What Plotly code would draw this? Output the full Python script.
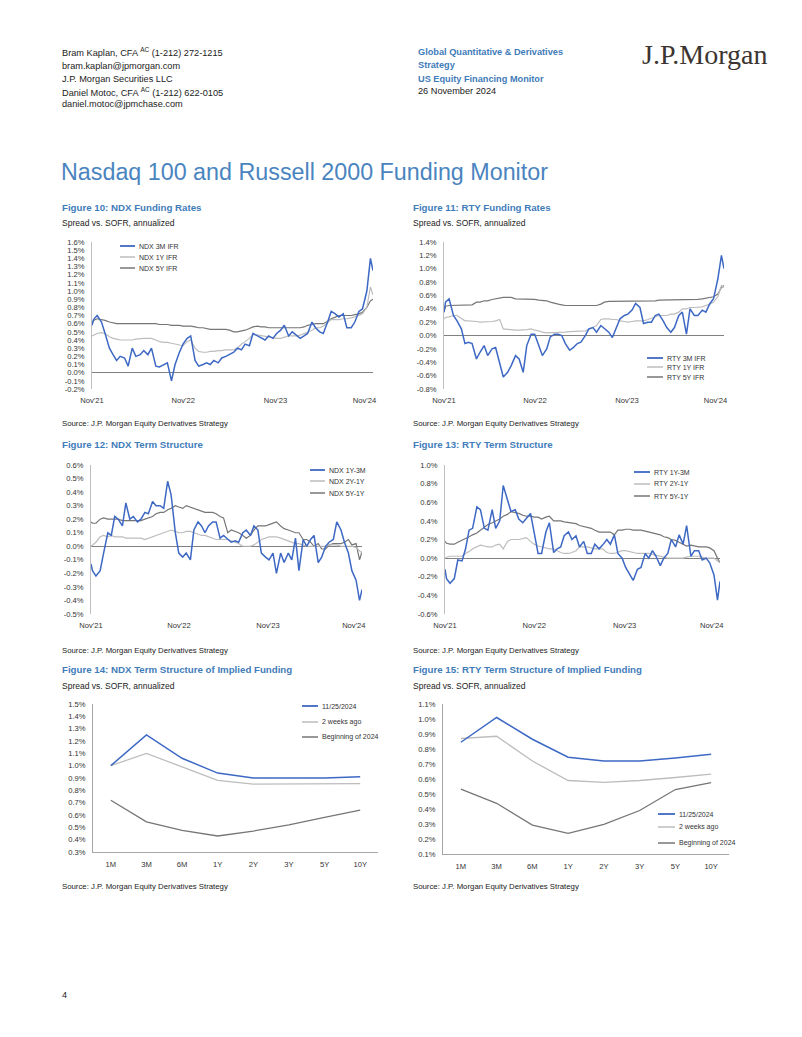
import plotly.graph_objects as go

W, H = 802, 1037
def fx(p): return p / W
def fy(p): return 1 - p / H

BLUE = "#3D68C4"
LGRAY = "#BDBDBD"
DGRAY = "#767676"
TITLE_BLUE = "#4A84BF"
FIG_BLUE = "#3F7CBA"
FONT = "Liberation Sans, Arial, sans-serif"

# ---------------- data ----------------
dates = [
    "2021-11-25", "2021-12-01", "2021-12-15",
    "2022-01-01", "2022-01-15", "2022-02-01", "2022-02-15", "2022-03-01", "2022-03-15",
    "2022-04-01", "2022-04-15", "2022-05-01", "2022-05-15", "2022-06-01", "2022-06-15",
    "2022-07-01", "2022-07-15", "2022-08-01", "2022-08-15", "2022-09-01", "2022-09-15",
    "2022-10-01", "2022-10-15", "2022-11-01", "2022-11-15", "2022-12-01", "2022-12-15",
    "2023-01-01", "2023-01-15", "2023-02-01", "2023-02-15", "2023-03-01", "2023-03-15",
    "2023-04-01", "2023-04-15", "2023-05-01", "2023-05-15", "2023-06-01", "2023-06-15",
    "2023-07-01", "2023-07-15", "2023-08-01", "2023-08-15", "2023-09-01", "2023-09-15",
    "2023-10-01", "2023-10-15", "2023-11-01", "2023-11-15", "2023-12-01", "2023-12-15",
    "2024-01-01", "2024-01-15", "2024-02-01", "2024-02-15", "2024-03-01", "2024-03-15",
    "2024-04-01", "2024-04-15", "2024-05-01", "2024-05-15", "2024-06-01", "2024-06-15",
    "2024-07-01", "2024-07-15", "2024-08-01", "2024-08-15", "2024-09-01", "2024-09-15",
    "2024-10-01", "2024-10-15", "2024-11-01", "2024-11-15", "2024-11-25",
]
tick_dates = ["2021-11-25", "2022-11-16", "2023-11-11", "2024-10-23"]
tick_text = ["Nov'21", "Nov'22", "Nov'23", "Nov'24"]

# Figure 10: NDX funding rates (%)
ndx_3m_ifr = [0.58, 0.65, 0.70, 0.62, 0.48, 0.30, 0.22, 0.15, 0.20, 0.18,
              0.08, 0.30, 0.20, 0.22, 0.27, 0.22, 0.30, 0.08, 0.07, 0.10,
              0.12, -0.10, 0.10, 0.25, 0.35, 0.42, 0.45, 0.15, 0.08, 0.10,
              0.12, 0.10, 0.15, 0.12, 0.18, 0.20, 0.22, 0.25, 0.30, 0.28,
              0.35, 0.33, 0.48, 0.45, 0.42, 0.40, 0.45, 0.42, 0.48, 0.52,
              0.58, 0.45, 0.50, 0.45, 0.42, 0.45, 0.48, 0.62, 0.55, 0.50,
              0.48, 0.62, 0.75, 0.72, 0.68, 0.72, 0.55, 0.55, 0.62, 0.75,
              0.78, 1.00, 1.40, 1.25]
ndx_1y_ifr = [0.45, 0.46, 0.48, 0.49, 0.48, 0.44, 0.42, 0.41, 0.40, 0.40,
              0.40, 0.40, 0.41, 0.42, 0.42, 0.42, 0.42, 0.40, 0.38, 0.37,
              0.37, 0.36, 0.35, 0.34, 0.33, 0.38, 0.40, 0.30, 0.26, 0.25,
              0.25, 0.26, 0.26, 0.27, 0.27, 0.28, 0.28, 0.28, 0.30, 0.35,
              0.38, 0.42, 0.47, 0.46, 0.45, 0.44, 0.43, 0.42, 0.42, 0.42,
              0.43, 0.45, 0.45, 0.45, 0.46, 0.48, 0.50, 0.52, 0.55, 0.55,
              0.57, 0.62, 0.65, 0.65, 0.65, 0.66, 0.66, 0.67, 0.68, 0.70,
              0.72, 0.80, 1.05, 0.95]
ndx_5y_ifr = [0.60, 0.64, 0.66, 0.65, 0.64, 0.62, 0.61, 0.60, 0.60, 0.60,
              0.60, 0.60, 0.60, 0.60, 0.60, 0.60, 0.60, 0.60, 0.59, 0.59,
              0.59, 0.58, 0.58, 0.58, 0.57, 0.57, 0.57, 0.56, 0.55, 0.55,
              0.54, 0.53, 0.53, 0.53, 0.53, 0.53, 0.52, 0.50, 0.50, 0.51,
              0.52, 0.54, 0.56, 0.57, 0.56, 0.56, 0.55, 0.55, 0.55, 0.55,
              0.55, 0.55, 0.55, 0.55, 0.55, 0.56, 0.58, 0.59, 0.60, 0.60,
              0.60, 0.63, 0.66, 0.68, 0.70, 0.70, 0.70, 0.70, 0.71, 0.72,
              0.74, 0.80, 0.88, 0.90]

# Figure 11: RTY funding rates (%)
rty_3m_ifr = [0.35, 0.50, 0.55, 0.30, 0.22, 0.10, -0.12, -0.10, -0.12, -0.35,
              -0.25, -0.15, -0.30, -0.20, -0.18, -0.40, -0.62, -0.55, -0.45, -0.30,
              -0.35, -0.55, -0.15, 0.02, 0.02, -0.15, -0.30, -0.20, -0.02, 0.02,
              0.02, 0.00, -0.12, -0.22, -0.18, -0.12, -0.10, 0.00, 0.10, 0.12,
              0.05, 0.15, 0.10, 0.05, -0.03, 0.12, 0.25, 0.30, 0.32, 0.38,
              0.48, 0.42, 0.18, 0.20, 0.20, 0.30, 0.32, 0.22, 0.12, 0.05,
              0.12, 0.30, 0.35, 0.02, 0.40, 0.30, 0.30, 0.38, 0.35, 0.48,
              0.55, 0.85, 1.20, 1.00]
rty_1y_ifr = [0.25, 0.27, 0.28, 0.30, 0.30, 0.26, 0.22, 0.22, 0.22, 0.21,
              0.20, 0.20, 0.20, 0.21, 0.22, 0.24, 0.10, 0.09, 0.08, 0.08,
              0.08, 0.08, 0.09, 0.10, 0.08, 0.07, 0.05, 0.04, 0.04, 0.05,
              0.05, 0.05, 0.05, 0.06, 0.06, 0.07, 0.07, 0.07, 0.09, 0.12,
              0.15, 0.24, 0.25, 0.25, 0.24, 0.24, 0.22, 0.21, 0.20, 0.21,
              0.22, 0.22, 0.22, 0.24, 0.26, 0.28, 0.30, 0.30, 0.30, 0.32,
              0.32, 0.35, 0.40, 0.40, 0.42, 0.42, 0.42, 0.43, 0.45, 0.47,
              0.50, 0.58, 0.75, 0.72]
rty_5y_ifr = [0.35, 0.44, 0.45, 0.45, 0.45, 0.45, 0.45, 0.46, 0.46, 0.50,
              0.50, 0.52, 0.52, 0.54, 0.55, 0.55, 0.57, 0.57, 0.57, 0.55,
              0.55, 0.55, 0.55, 0.55, 0.54, 0.53, 0.53, 0.52, 0.50, 0.48,
              0.47, 0.46, 0.45, 0.45, 0.45, 0.44, 0.44, 0.44, 0.44, 0.45,
              0.45, 0.47, 0.50, 0.51, 0.51, 0.52, 0.52, 0.52, 0.52, 0.52,
              0.52, 0.52, 0.52, 0.52, 0.52, 0.52, 0.53, 0.53, 0.53, 0.53,
              0.53, 0.53, 0.53, 0.53, 0.53, 0.53, 0.54, 0.55, 0.56, 0.57,
              0.58, 0.62, 0.72, 0.75]

# Figure 12: NDX term structure (%)
ndx_1y_3m = [-0.13, -0.18, -0.22, -0.18, -0.05, 0.10, 0.08, 0.22, 0.20, 0.15,
             0.32, 0.20, 0.22, 0.18, 0.20, 0.25, 0.24, 0.33, 0.30, 0.30,
             0.28, 0.48, 0.38, 0.10, -0.05, -0.08, -0.05, -0.10, 0.12, 0.18,
             0.15, 0.10, 0.15, 0.18, 0.18, 0.06, 0.08, 0.05, 0.03, 0.04,
             0.03, 0.10, 0.12, 0.08, 0.15, 0.12, -0.05, -0.08, -0.10, -0.05,
             -0.20, -0.05, -0.12, -0.05, -0.10, 0.06, -0.18, 0.05, 0.00, 0.05,
             0.08, -0.12, -0.08, 0.00, 0.03, 0.05, 0.18, 0.12, 0.03, -0.05,
             -0.18, -0.25, -0.40, -0.32]
ndx_2y_1y = [0.00, 0.01, 0.03, 0.07, 0.08, 0.07, 0.08, 0.07, 0.07, 0.07,
             0.06, 0.06, 0.06, 0.06, 0.06, 0.05, 0.06, 0.07, 0.08, 0.09,
             0.10, 0.11, 0.12, 0.11, 0.10, 0.10, 0.11, 0.11, 0.10, 0.09,
             0.08, 0.08, 0.07, 0.06, 0.05, 0.05, 0.05, 0.05, 0.04, 0.03,
             0.02, 0.00, 0.00, 0.00, 0.01, 0.03, 0.05, 0.06, 0.07, 0.07,
             0.07, 0.06, 0.05, 0.04, 0.03, 0.02, 0.02, 0.01, 0.00, 0.00,
             0.00, 0.00, 0.00, 0.00, 0.01, 0.01, 0.01, 0.00, 0.00, 0.00,
             0.00, -0.01, -0.03, -0.05]
ndx_5y_1y = [0.18, 0.17, 0.17, 0.20, 0.21, 0.20, 0.20, 0.20, 0.20, 0.19,
             0.19, 0.19, 0.19, 0.19, 0.19, 0.20, 0.21, 0.22, 0.24, 0.25,
             0.25, 0.27, 0.28, 0.30, 0.29, 0.28, 0.30, 0.29, 0.28, 0.27,
             0.26, 0.25, 0.25, 0.25, 0.24, 0.22, 0.21, 0.10, 0.12, 0.11,
             0.10, 0.08, 0.06, 0.08, 0.12, 0.15, 0.15, 0.15, 0.16, 0.17,
             0.18, 0.15, 0.13, 0.12, 0.11, 0.10, 0.10, 0.05, 0.05, 0.03,
             0.00, 0.02, -0.02, -0.02, 0.01, 0.02, 0.02, 0.02, 0.03, 0.05,
             0.01, 0.02, -0.10, -0.04]

# Figure 13: RTY term structure (%)
rty_1y_3m = [-0.12, -0.22, -0.27, -0.22, -0.02, -0.03, 0.10, 0.30, 0.32, 0.55,
             0.52, 0.32, 0.30, 0.52, 0.32, 0.40, 0.78, 0.62, 0.50, 0.52,
             0.42, 0.38, 0.42, 0.48, 0.28, 0.05, 0.05, 0.28, 0.38, 0.06,
             0.10, 0.12, 0.24, 0.28, 0.20, 0.24, 0.12, 0.18, 0.05, 0.05,
             0.15, 0.10, 0.14, 0.20, 0.15, 0.25, 0.05, 0.00, -0.10, -0.18,
             -0.24, -0.12, -0.10, 0.05, 0.00, 0.08, 0.02, -0.08, 0.00, 0.05,
             0.20, 0.12, 0.25, 0.15, 0.35, 0.02, 0.08, 0.08, -0.02, 0.00,
             -0.05, -0.18, -0.45, -0.25]
rty_2y_1y = [0.00, 0.01, 0.02, 0.02, 0.02, 0.02, 0.05, 0.07, 0.10, 0.12,
             0.14, 0.13, 0.12, 0.12, 0.14, 0.15, 0.10, 0.18, 0.20, 0.20,
             0.20, 0.21, 0.22, 0.18, 0.15, 0.13, 0.12, 0.11, 0.10, 0.10,
             0.08, 0.06, 0.05, 0.05, 0.06, 0.08, 0.12, 0.12, 0.12, 0.11,
             0.10, 0.10, 0.10, 0.06, 0.05, 0.05, 0.06, 0.08, 0.08, 0.07,
             0.06, 0.05, 0.05, 0.05, 0.05, 0.04, 0.03, 0.02, 0.01, 0.00,
             0.00, 0.00, 0.00, 0.00, 0.01, 0.02, 0.02, 0.02, 0.01, 0.00,
             0.00, 0.00, -0.03, -0.05]
rty_5y_1y = [0.18, 0.16, 0.15, 0.15, 0.17, 0.19, 0.21, 0.23, 0.25, 0.27,
             0.30, 0.33, 0.36, 0.38, 0.40, 0.42, 0.45, 0.47, 0.50, 0.49,
             0.48, 0.46, 0.45, 0.45, 0.44, 0.44, 0.42, 0.44, 0.45, 0.40,
             0.40, 0.40, 0.39, 0.38, 0.38, 0.37, 0.35, 0.34, 0.33, 0.32,
             0.30, 0.28, 0.28, 0.28, 0.28, 0.25, 0.30, 0.30, 0.31, 0.31,
             0.30, 0.30, 0.30, 0.29, 0.28, 0.27, 0.26, 0.25, 0.23, 0.22,
             0.20, 0.19, 0.17, 0.15, 0.13, 0.14, 0.13, 0.12, 0.12, 0.12,
             0.11, 0.08, 0.00, -0.05]

# Figures 14/15: implied funding term structures (%)
tenors = ["1M", "3M", "6M", "1Y", "2Y", "3Y", "5Y", "10Y"]
ndx_curve_now = [1.00, 1.25, 1.06, 0.94, 0.90, 0.90, 0.90, 0.91]
ndx_curve_2w = [1.00, 1.10, 0.99, 0.88, 0.85, 0.85, 0.85, 0.855]
ndx_curve_boy = [0.72, 0.545, 0.475, 0.43, 0.47, 0.52, 0.58, 0.64]
rty_curve_now = [0.845, 1.01, 0.865, 0.745, 0.72, 0.72, 0.74, 0.765]
rty_curve_2w = [0.87, 0.885, 0.72, 0.59, 0.578, 0.59, 0.61, 0.633]
rty_curve_boy = [0.533, 0.438, 0.293, 0.238, 0.298, 0.39, 0.53, 0.576]

# y tick values per chart
ticks_fig10 = [-0.2, -0.1, 0.0, 0.1, 0.2, 0.3, 0.4, 0.5, 0.6, 0.7, 0.8, 0.9, 1.0, 1.1, 1.2, 1.3, 1.4, 1.5, 1.6]
ticks_fig11 = [-0.8, -0.6, -0.4, -0.2, 0.0, 0.2, 0.4, 0.6, 0.8, 1.0, 1.2, 1.4]
ticks_fig12 = [-0.5, -0.4, -0.3, -0.2, -0.1, 0.0, 0.1, 0.2, 0.3, 0.4, 0.5, 0.6]
ticks_fig13 = [-0.6, -0.4, -0.2, 0.0, 0.2, 0.4, 0.6, 0.8, 1.0]
ticks_fig14 = [0.3, 0.4, 0.5, 0.6, 0.7, 0.8, 0.9, 1.0, 1.1, 1.2, 1.3, 1.4, 1.5]
ticks_fig15 = [0.1, 0.2, 0.3, 0.4, 0.5, 0.6, 0.7, 0.8, 0.9, 1.0, 1.1]

# ---------------- figure ----------------
fig = go.Figure()
layout = dict(width=W, height=H, margin=dict(l=0, r=0, t=0, b=0, pad=0, autoexpand=False),
              paper_bgcolor="white", plot_bgcolor="white", showlegend=False,
              template="none",
              font=dict(family=FONT, color="#222222"))

TICKFONT = dict(family=FONT, size=7.6, color="#333333")

charts = [
    (1, (92, 373), (242, 389), ticks_fig10, "ts",
     [(ndx_5y_ifr, DGRAY, 1.2), (ndx_1y_ifr, LGRAY, 1.2), (ndx_3m_ifr, BLUE, 1.5)]),
    (2, (444, 724), (242, 389), ticks_fig11, "ts",
     [(rty_5y_ifr, DGRAY, 1.2), (rty_1y_ifr, LGRAY, 1.2), (rty_3m_ifr, BLUE, 1.5)]),
    (3, (91, 362), (465, 614), ticks_fig12, "ts",
     [(ndx_5y_1y, DGRAY, 1.2), (ndx_2y_1y, LGRAY, 1.2), (ndx_1y_3m, BLUE, 1.5)]),
    (4, (445, 720), (465, 614), ticks_fig13, "ts",
     [(rty_5y_1y, DGRAY, 1.2), (rty_2y_1y, LGRAY, 1.2), (rty_1y_3m, BLUE, 1.5)]),
    (5, (93, 378), (704, 852), ticks_fig14, "cat",
     [(ndx_curve_boy, DGRAY, 1.3), (ndx_curve_2w, LGRAY, 1.3), (ndx_curve_now, BLUE, 1.5)]),
    (6, (443, 729), (704, 854), ticks_fig15, "cat",
     [(rty_curve_boy, DGRAY, 1.3), (rty_curve_2w, LGRAY, 1.3), (rty_curve_now, BLUE, 1.5)]),
]

for idx, xd, yd, yt, kind, series in charts:
    sfx = "" if idx == 1 else str(idx)
    xa, ya = "xaxis" + sfx, "yaxis" + sfx
    xs = tenors if kind == "cat" else dates
    for vals, col, w in series:
        fig.add_trace(go.Scatter(x=xs, y=vals, mode="lines",
                                 line=dict(color=col, width=w),
                                 xaxis="x" + sfx, yaxis="y" + sfx,
                                 hoverinfo="skip"))
    common_y = dict(domain=[fy(yd[1]), fy(yd[0])], anchor="x" + sfx,
                    range=[yt[0], yt[-1]], tickvals=yt,
                    ticktext=[f"{v:.1f}%" for v in yt],
                    showgrid=False, showline=True, linewidth=1, automargin=False,
                    ticks="", tickfont=TICKFONT, ticklabelstandoff=5)
    if kind == "ts":
        layout[xa] = dict(domain=[fx(xd[0]), fx(xd[1])], anchor="y" + sfx, type="date",
                          range=[dates[0], dates[-1]], tickvals=tick_dates, ticktext=tick_text,
                          showgrid=False, showline=False, zeroline=False, ticks="",
                          automargin=False, tickfont=TICKFONT, ticklabelstandoff=5)
        layout[ya] = dict(common_y, linecolor="#BFBFBF", zeroline=True,
                          zerolinecolor="#808080", zerolinewidth=1)
    else:
        layout[xa] = dict(domain=[fx(xd[0]), fx(xd[1])], anchor="y" + sfx, type="category",
                          range=[-0.5, 7.5], showgrid=False, showline=True,
                          linecolor="#A6A6A6", linewidth=1, zeroline=False, ticks="",
                          automargin=False, tickfont=TICKFONT, ticklabelstandoff=5)
        layout[ya] = dict(common_y, linecolor="#A6A6A6", zeroline=False)

annotations = []
shapes = []

def txt(x, y, s, size, color="#222222", bold=False, family=FONT):
    annotations.append(dict(x=fx(x), y=fy(y), xref="paper", yref="paper",
                            xanchor="left", yanchor="middle", showarrow=False,
                            text=("<b>%s</b>" % s) if bold else s,
                            font=dict(family=family, size=size, color=color)))

# header
txt(60, 52, "Bram Kaplan, CFA <sup>AC</sup> (1-212) 272-1215", 9.2)
txt(60, 66, "bram.kaplan@jpmorgan.com", 9.2)
txt(60, 79, "J.P. Morgan Securities LLC", 9.2)
txt(60, 92, "Daniel Motoc, CFA <sup>AC</sup> (1-212) 622-0105", 9.2)
txt(60, 104, "daniel.motoc@jpmchase.com", 9.2)
txt(416, 52, "Global Quantitative & Derivatives", 9.2, FIG_BLUE, True)
txt(416, 65, "Strategy", 9.2, FIG_BLUE, True)
txt(416, 79, "US Equity Financing Monitor", 9.2, FIG_BLUE, True)
txt(416, 91, "26 November 2024", 9.2)
txt(640, 55, "J.P.Morgan", 28, "#3B3431", family="Liberation Serif, Times New Roman, serif")

txt(59, 172, "Nasdaq 100 and Russell 2000 Funding Monitor", 23.3, TITLE_BLUE)

SRC = "Source: J.P. Morgan Equity Derivatives Strategy"
SUB = "Spread vs. SOFR, annualized"
txt(60, 208, "Figure 10: NDX Funding Rates", 9.7, FIG_BLUE, True)
txt(60, 223, SUB, 8.5)
txt(411, 208, "Figure 11: RTY Funding Rates", 9.7, FIG_BLUE, True)
txt(411, 223, SUB, 8.5)
txt(60, 424, SRC, 7.8)
txt(411, 424, SRC, 7.8)
txt(60, 444, "Figure 12: NDX Term Structure", 9.7, FIG_BLUE, True)
txt(411, 444, "Figure 13: RTY Term Structure", 9.7, FIG_BLUE, True)
txt(60, 650, SRC, 7.8)
txt(411, 650, SRC, 7.8)
txt(60, 669, "Figure 14: NDX Term Structure of Implied Funding", 9.7, FIG_BLUE, True)
txt(60, 686, SUB, 8.5)
txt(411, 669, "Figure 15: RTY Term Structure of Implied Funding", 9.7, FIG_BLUE, True)
txt(411, 686, SUB, 8.5)
txt(60, 886, SRC, 7.8)
txt(411, 886, SRC, 7.8)
txt(60, 995, "4", 9)

# legends (sample line + label)
legends = [
    ((120, 135, 137), [246, 257, 268], ["NDX 3M IFR", "NDX 1Y IFR", "NDX 5Y IFR"]),
    ((647, 663, 665), [358, 367, 377], ["RTY 3M IFR", "RTY 1Y IFR", "RTY 5Y IFR"]),
    ((310, 325, 327), [470, 481, 493], ["NDX 1Y-3M", "NDX 2Y-1Y", "NDX 5Y-1Y"]),
    ((634, 650, 652), [472, 484, 496], ["RTY 1Y-3M", "RTY 2Y-1Y", "RTY 5Y-1Y"]),
    ((302, 318, 320), [706, 722, 737], ["11/25/2024", "2 weeks ago", "Beginning of 2024"]),
    ((658, 675, 677), [814, 827, 843], ["11/25/2024", "2 weeks ago", "Beginning of 2024"]),
]
leg_cols = [(BLUE, 1.8), (LGRAY, 1.5), (DGRAY, 1.5)]
for (x0, x1, tx), rows, labels in legends:
    for r, lab, (col, w) in zip(rows, labels, leg_cols):
        shapes.append(dict(type="line", xref="paper", yref="paper",
                           x0=fx(x0), x1=fx(x1), y0=fy(r), y1=fy(r),
                           line=dict(color=col, width=w)))
        txt(tx, r, lab, 7, "#333333")

layout["annotations"] = annotations
layout["shapes"] = shapes
fig.update_layout(**layout)
fig.write_html("out.html", config={"displayModeBar": False},
               post_script="document.body.style.margin='0';document.body.style.overflow='hidden';")
